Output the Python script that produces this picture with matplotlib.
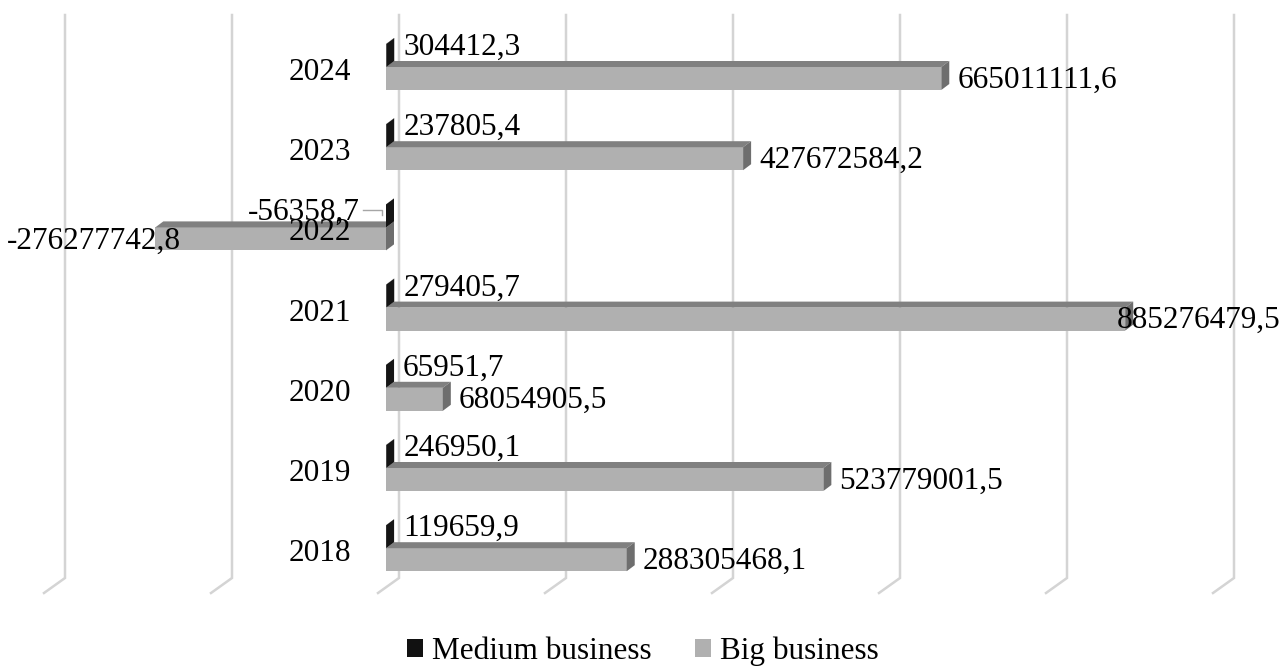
import matplotlib
matplotlib.use("Agg")
import matplotlib.pyplot as plt
from matplotlib.patches import Polygon, Patch
import numpy as np

plt.rcParams['font.family'] = ['Liberation Serif', 'DejaVu Serif']

years = ['2018', '2019', '2020', '2021', '2022', '2023', '2024']
medium = [119659.9, 246950.1, 65951.7, 279405.7, -56358.7, 237805.4, 304412.3]
big = [288305468.1, 523779001.5, 68054905.5, 885276479.5, -276277742.8,
       427672584.2, 665011111.6]
labels_medium = ['119659,9', '246950,1', '65951,7', '279405,7', '-56358,7',
                 '237805,4', '304412,3']
labels_big = ['288305468,1', '523779001,5', '68054905,5', '885276479,5',
              '-276277742,8', '427672584,2', '665011111,6']
grid_vals = np.arange(-400e6, 1000e6 + 1, 200e6)

W, H, DPI = 1286, 668, 100
FS = 22.5

fig = plt.figure(figsize=(W / DPI, H / DPI), dpi=DPI)
ax = fig.add_axes([0, 0, 1, 1])
ax.set_axis_off()

# pixel scales (front plane)
px_per_val = 0.835e-6
px_per_cat = 80.2
zero_px = 386
ax.set_xlim(-zero_px / px_per_val, (W - zero_px) / px_per_val)
ymax = 6 + 67 / px_per_cat
ax.set_ylim(ymax - H / px_per_cat, ymax)


def dx(px):
    return px / px_per_val


def dy(px):
    return px / px_per_cat


# 3d depth of bars
ddx, ddy = dx(8), dy(6)
bar_h = dy(23)

# gridlines: back wall verticals + diagonal floor lines
gtop, gbot = ymax - dy(15), ymax - dy(578)
for g in grid_vals:
    xb = g + dx(13)
    ax.plot([xb, xb, xb - dx(21)], [gtop, gbot, gbot - dy(15)],
            color='#d4d4d4', lw=1.8, solid_joinstyle='miter', zorder=1)


def bar3d(v, yc, front, top, side):
    x0, x1 = min(v, 0), max(v, 0)
    yb, yt = yc - bar_h / 2, yc + bar_h / 2
    ax.add_patch(Polygon([(x0, yb), (x1, yb), (x1, yt), (x0, yt)],
                         closed=True, fc=front, ec='none', zorder=3))
    ax.add_patch(Polygon([(x0, yt), (x1, yt), (x1 + ddx, yt + ddy),
                          (x0 + ddx, yt + ddy)],
                         closed=True, fc=top, ec='none', zorder=3))
    ax.add_patch(Polygon([(x1, yb), (x1 + ddx, yb + ddy),
                          (x1 + ddx, yt + ddy), (x1, yt)],
                         closed=True, fc=side, ec='none', zorder=3))


def keep_inside(t):
    # excel pushes labels back into the chart area
    ext = t.get_window_extent(renderer)
    if ext.x0 < 7:
        t.set_x(t.get_position()[0] + dx(7 - ext.x0))
    elif ext.x1 > W - 6:
        t.set_x(t.get_position()[0] - dx(ext.x1 - (W - 6)))


fig.canvas.draw()
renderer = fig.canvas.get_renderer()

for i, yr in enumerate(years):
    yc_big = i - dy(11.5)
    yc_med = i + dy(11.5)
    bar3d(big[i], yc_big, '#b0b0b0', '#808080', '#6e6e6e')
    bar3d(medium[i], yc_med, '#111111', '#0a0a0a', '#151515')

    # category label
    ax.text(-dx(35), i - dy(5.5), yr, ha='right', va='center',
            fontsize=FS, zorder=5)

    # big business label
    vb = big[i]
    if vb >= 0:
        t = ax.text(vb + dx(16), yc_big - dy(1.5), labels_big[i], ha='left',
                    va='center', fontsize=FS, zorder=5)
    else:
        t = ax.text(vb - dx(16), yc_big - dy(2), labels_big[i], ha='right',
                    va='center', fontsize=FS, zorder=5)
    keep_inside(t)

    # medium business label
    vm = medium[i]
    if vm >= 0:
        ax.text(max(vm, 0) + dx(17), yc_med + dy(8), labels_medium[i],
                ha='left', va='center', fontsize=FS, zorder=5)
    else:
        ax.text(-dx(26), yc_med + dy(4), labels_medium[i], ha='right',
                va='center', fontsize=FS, zorder=5)
        ax.plot([-dx(23), -dx(4), -dx(4)],
                [yc_med + dy(6), yc_med + dy(6), yc_med + dy(1)],
                color='#a6a6a6', lw=1, zorder=4)

handles = [Patch(fc='#111111', ec='none', label='Medium business'),
           Patch(fc='#b0b0b0', ec='none', label='Big business')]
fig.legend(handles=handles, loc='center', bbox_to_anchor=(0.5, 1 - 651 / H),
           ncol=2, frameon=False, fontsize=FS, handlelength=0.5,
           handleheight=0.5, handletextpad=0.3, columnspacing=1.4,
           borderpad=0.1)

fig.savefig('out.png', dpi=DPI)
